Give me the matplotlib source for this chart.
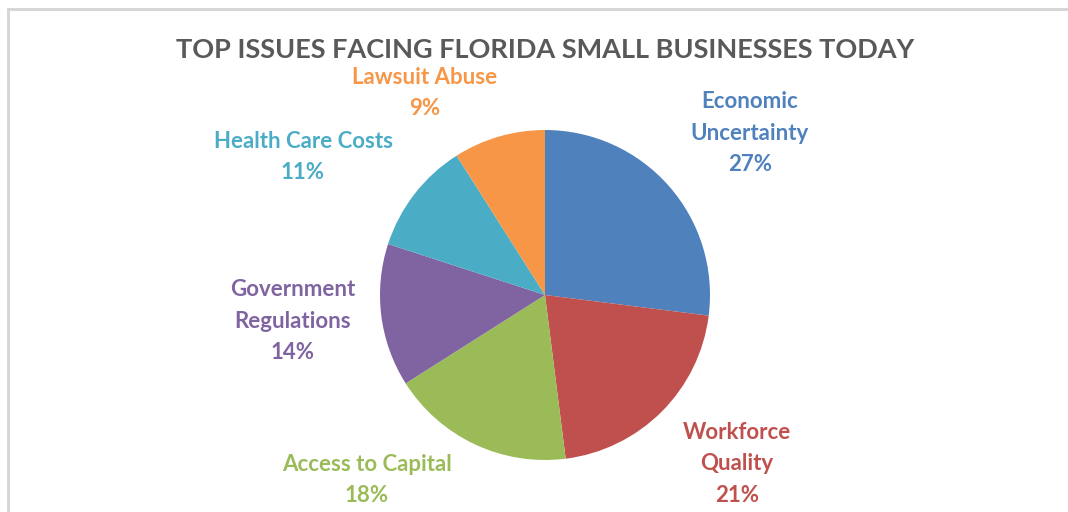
import matplotlib
matplotlib.use("Agg")
import matplotlib.pyplot as plt
from matplotlib.lines import Line2D

W, H = 1068, 512

categories = ["Economic\nUncertainty", "Workforce\nQuality", "Access to Capital",
              "Government\nRegulations", "Health Care Costs", "Lawsuit Abuse"]
shares = [27, 21, 18, 14, 11, 9]
colors = ["#4F81BD", "#C0504D", "#9BBB59", "#8064A2", "#4BACC6", "#F79646"]
# label anchor (pixel centre of the text block)
label_xy = [(750, 133), (737, 464), (367, 480), (293, 321), (303, 157), (425, 93)]

plt.rcParams["font.family"] = ["Lato", "DejaVu Sans"]

fig = plt.figure(figsize=(W / 100, H / 100), dpi=100)

# light frame: only the top and left edges show in the crop
fx, fy = 8 / W, 1 - 9 / H
fig.add_artist(Line2D([fx, 1], [fy, fy], transform=fig.transFigure, color="#d4d4d4", lw=2))
fig.add_artist(Line2D([fx, fx], [0, fy], transform=fig.transFigure, color="#d4d4d4", lw=2))

cx, cy, r = 545, 295, 165
ax = fig.add_axes([(cx - r) / W, (H - cy - r) / H, 2 * r / W, 2 * r / H])
ax.pie(shares, colors=colors, startangle=90, counterclock=False,
       wedgeprops=dict(linewidth=0))
ax.set_aspect("equal")
ax.set_xlim(-1, 1)
ax.set_ylim(-1, 1)

fig.text(545 / W, 1 - 50 / H, "TOP ISSUES FACING FLORIDA SMALL BUSINESSES TODAY",
         ha="center", va="center", fontsize=19.5, fontweight="bold", color="#595959")

for name, val, col, (x, y) in zip(categories, shares, colors, label_xy):
    fig.text(x / W, 1 - y / H, f"{name}\n{val}%", ha="center", va="center",
             fontsize=16, fontweight="bold", color=col, linespacing=1.62)

fig.savefig("out.png", dpi=100)
